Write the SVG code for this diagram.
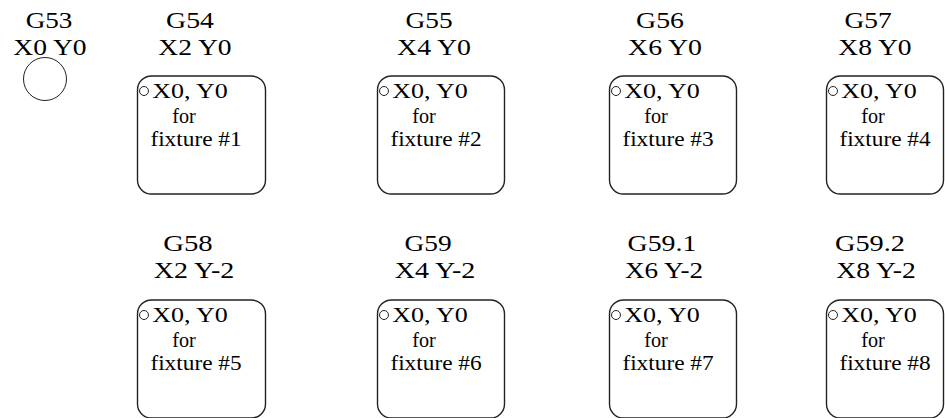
<svg xmlns="http://www.w3.org/2000/svg" width="945" height="418" viewBox="0 0 945 418">
<style>
text{font-family:"Liberation Serif","Times New Roman",serif;fill:#000;text-anchor:middle;}
.t{font-size:23px;}
.i{font-size:21px;}
.box{fill:#fff;stroke:#222;stroke-width:1.4;}
.dot{fill:none;stroke:#222;stroke-width:1;}
</style>
<rect width="945" height="418" fill="#fff"/>
<g id="g53">
<text class="t" transform="translate(49,28) scale(1.18,1)">G53</text>
<text class="t" transform="translate(50,55) scale(1.2,1)">X0 Y0</text>
<circle class="dot" cx="45" cy="79" r="21.5"/>
</g>
<g id="g54">
<text class="t" transform="translate(190,28) scale(1.21,1)">G54</text>
<text class="t" transform="translate(195,55) scale(1.2,1)">X2 Y0</text>
<rect class="box" x="137.5" y="76" width="128" height="118" rx="14"/>
<circle class="dot" cx="144" cy="91" r="4.5"/>
<text class="i" transform="translate(190,98) scale(1.24,1)">X0, Y0</text>
<text class="i" transform="translate(184,123) scale(0.96,1)">for</text>
<text class="i" transform="translate(196,146) scale(1.11,1)">fixture #1</text>
</g>
<g id="g55">
<text class="t" transform="translate(429,28) scale(1.19,1)">G55</text>
<text class="t" transform="translate(434,55) scale(1.21,1)">X4 Y0</text>
<rect class="box" x="377.5" y="76" width="127" height="118" rx="14"/>
<circle class="dot" cx="384" cy="91" r="4.5"/>
<text class="i" transform="translate(430,98) scale(1.24,1)">X0, Y0</text>
<text class="i" transform="translate(424,123) scale(0.96,1)">for</text>
<text class="i" transform="translate(436,146) scale(1.11,1)">fixture #2</text>
</g>
<g id="g56">
<text class="t" transform="translate(660,28) scale(1.21,1)">G56</text>
<text class="t" transform="translate(665,55) scale(1.21,1)">X6 Y0</text>
<rect class="box" x="609.5" y="76" width="127" height="118" rx="14"/>
<circle class="dot" cx="616" cy="91" r="4.5"/>
<text class="i" transform="translate(662,98) scale(1.24,1)">X0, Y0</text>
<text class="i" transform="translate(656,123) scale(0.96,1)">for</text>
<text class="i" transform="translate(668,146) scale(1.11,1)">fixture #3</text>
</g>
<g id="g57">
<text class="t" transform="translate(868,28) scale(1.19,1)">G57</text>
<text class="t" transform="translate(875,55) scale(1.2,1)">X8 Y0</text>
<rect class="box" x="826.5" y="76" width="117" height="118" rx="14"/>
<circle class="dot" cx="833" cy="91" r="4.5"/>
<text class="i" transform="translate(879,98) scale(1.24,1)">X0, Y0</text>
<text class="i" transform="translate(873,123) scale(0.96,1)">for</text>
<text class="i" transform="translate(885,146) scale(1.11,1)">fixture #4</text>
</g>
<g id="g58">
<text class="t" transform="translate(188,251) scale(1.25,1)">G58</text>
<text class="t" transform="translate(194,278) scale(1.22,1)">X2 Y-2</text>
<rect class="box" x="137.5" y="300" width="128" height="118" rx="14"/>
<circle class="dot" cx="144" cy="315" r="4.5"/>
<text class="i" transform="translate(190,322) scale(1.24,1)">X0, Y0</text>
<text class="i" transform="translate(184,347) scale(0.96,1)">for</text>
<text class="i" transform="translate(196,370) scale(1.11,1)">fixture #5</text>
</g>
<g id="g59">
<text class="t" transform="translate(428,251) scale(1.19,1)">G59</text>
<text class="t" transform="translate(435,278) scale(1.22,1)">X4 Y-2</text>
<rect class="box" x="377.5" y="300" width="127" height="118" rx="14"/>
<circle class="dot" cx="384" cy="315" r="4.5"/>
<text class="i" transform="translate(430,322) scale(1.24,1)">X0, Y0</text>
<text class="i" transform="translate(424,347) scale(0.96,1)">for</text>
<text class="i" transform="translate(436,370) scale(1.11,1)">fixture #6</text>
</g>
<g id="g59_1">
<text class="t" transform="translate(662,251) scale(1.21,1)">G59.1</text>
<text class="t" transform="translate(664,278) scale(1.18,1)">X6 Y-2</text>
<rect class="box" x="609.5" y="300" width="127" height="118" rx="14"/>
<circle class="dot" cx="616" cy="315" r="4.5"/>
<text class="i" transform="translate(662,322) scale(1.24,1)">X0, Y0</text>
<text class="i" transform="translate(656,347) scale(0.96,1)">for</text>
<text class="i" transform="translate(668,370) scale(1.11,1)">fixture #7</text>
</g>
<g id="g59_2">
<text class="t" transform="translate(870,251) scale(1.23,1)">G59.2</text>
<text class="t" transform="translate(876,278) scale(1.2,1)">X8 Y-2</text>
<rect class="box" x="826.5" y="300" width="117" height="118" rx="14"/>
<circle class="dot" cx="833" cy="315" r="4.5"/>
<text class="i" transform="translate(879,322) scale(1.24,1)">X0, Y0</text>
<text class="i" transform="translate(873,347) scale(0.96,1)">for</text>
<text class="i" transform="translate(885,370) scale(1.11,1)">fixture #8</text>
</g>
<g id="connectors"></g>
</svg>
